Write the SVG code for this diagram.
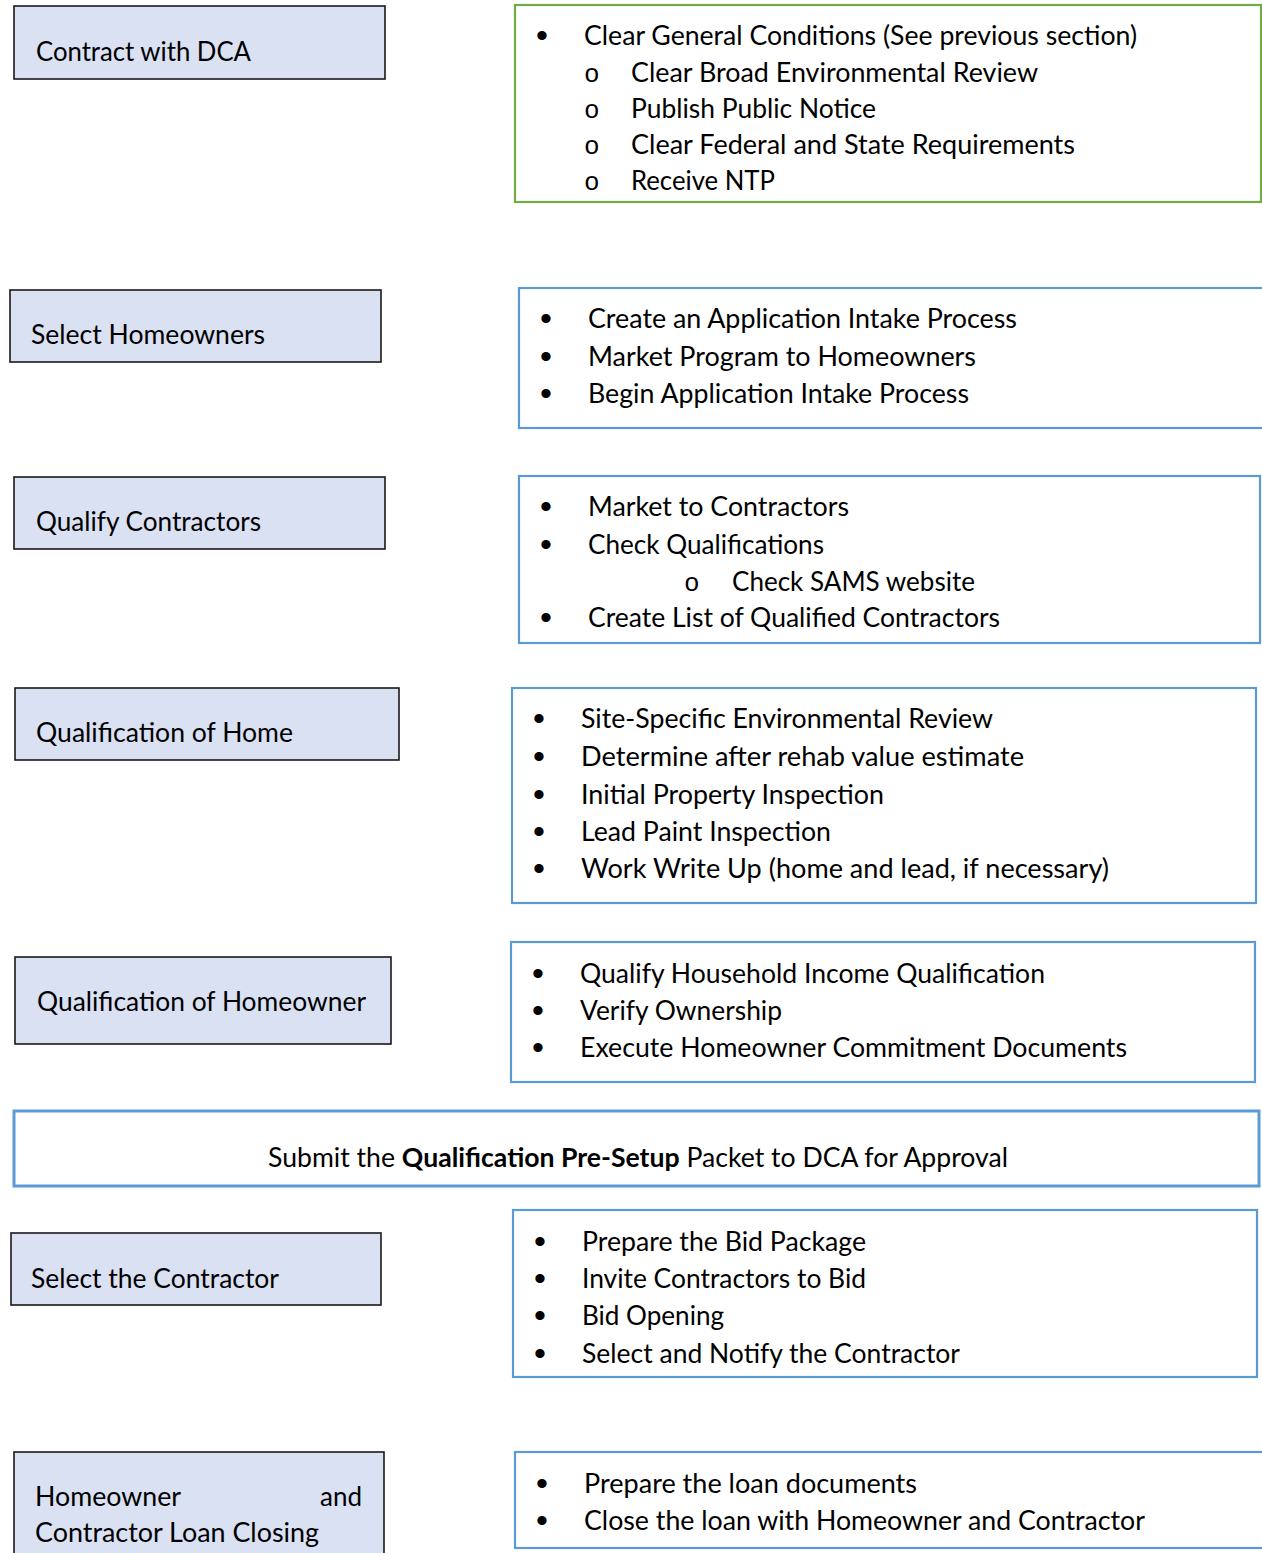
<svg xmlns="http://www.w3.org/2000/svg" width="1262" height="1553" viewBox="0 0 1262 1553">
<style>
.step{fill:#dae1f3;stroke:#1a1a1a;stroke-width:1.6}
.green{fill:#fff;stroke:#70ad47;stroke-width:2.2}
.blue{fill:#fff;stroke:#5b9bd5;stroke-width:2.2}
.banner{fill:#fff;stroke:#5b9bd5;stroke-width:3}
text{font-family:Lato,"Open Sans","Liberation Sans",sans-serif;font-size:26px;fill:#000}
.b{font-family:"Liberation Sans",sans-serif;font-size:34px}
.o{font-family:"Liberation Mono",monospace;font-size:26px;font-weight:300}
</style>
<rect width="1262" height="1553" fill="#fff"/>
<g id="connectors"></g>

<g id="n1"><rect class="step" x="14" y="6" width="371" height="73"/>
<text x="36" y="61" textLength="215" lengthAdjust="spacingAndGlyphs">Contract with DCA</text></g>
<g id="d1"><rect class="green" x="515" y="5" width="746" height="197"/>
<text class="b" x="536" y="47">•</text><text x="584" y="45" textLength="553" lengthAdjust="spacingAndGlyphs">Clear General Conditions (See previous section)</text>
<text class="o" x="584" y="82">o</text><text x="631" y="82" textLength="407" lengthAdjust="spacingAndGlyphs">Clear Broad Environmental Review</text>
<text class="o" x="584" y="118">o</text><text x="631" y="118" textLength="245" lengthAdjust="spacingAndGlyphs">Publish Public Notice</text>
<text class="o" x="584" y="154">o</text><text x="631" y="154" textLength="444" lengthAdjust="spacingAndGlyphs">Clear Federal and State Requirements</text>
<text class="o" x="584" y="190">o</text><text x="631" y="190" textLength="144" lengthAdjust="spacingAndGlyphs">Receive NTP</text></g>

<g id="n2"><rect class="step" x="10" y="290" width="371" height="72"/>
<text x="31" y="344" textLength="234" lengthAdjust="spacingAndGlyphs">Select Homeowners</text></g>
<g id="d2"><rect class="blue" x="519" y="288" width="750" height="140"/>
<text class="b" x="540" y="330">•</text><text x="588" y="328" textLength="429" lengthAdjust="spacingAndGlyphs">Create an Application Intake Process</text>
<text class="b" x="540" y="368">•</text><text x="588" y="366" textLength="388" lengthAdjust="spacingAndGlyphs">Market Program to Homeowners</text>
<text class="b" x="540" y="405">•</text><text x="588" y="403" textLength="381" lengthAdjust="spacingAndGlyphs">Begin Application Intake Process</text></g>

<g id="n3"><rect class="step" x="14" y="477" width="371" height="72"/>
<text x="36" y="531" textLength="225" lengthAdjust="spacingAndGlyphs">Qualify Contractors</text></g>
<g id="d3"><rect class="blue" x="519" y="476" width="741" height="167"/>
<text class="b" x="540" y="518">•</text><text x="588" y="516" textLength="261" lengthAdjust="spacingAndGlyphs">Market to Contractors</text>
<text class="b" x="540" y="556">•</text><text x="588" y="554" textLength="236" lengthAdjust="spacingAndGlyphs">Check Qualifications</text>
<text class="o" x="684" y="591">o</text><text x="732" y="591" textLength="243" lengthAdjust="spacingAndGlyphs">Check SAMS website</text>
<text class="b" x="540" y="629">•</text><text x="588" y="627" textLength="412" lengthAdjust="spacingAndGlyphs">Create List of Qualified Contractors</text></g>

<g id="n4"><rect class="step" x="15" y="688" width="384" height="72"/>
<text x="36" y="742" textLength="257" lengthAdjust="spacingAndGlyphs">Qualification of Home</text></g>
<g id="d4"><rect class="blue" x="512" y="688" width="744" height="215"/>
<text class="b" x="533" y="730">•</text><text x="581" y="728" textLength="412" lengthAdjust="spacingAndGlyphs">Site-Specific Environmental Review</text>
<text class="b" x="533" y="768">•</text><text x="581" y="766" textLength="443" lengthAdjust="spacingAndGlyphs">Determine after rehab value estimate</text>
<text class="b" x="533" y="806">•</text><text x="581" y="804" textLength="303" lengthAdjust="spacingAndGlyphs">Initial Property Inspection</text>
<text class="b" x="533" y="843">•</text><text x="581" y="841" textLength="250" lengthAdjust="spacingAndGlyphs">Lead Paint Inspection</text>
<text class="b" x="533" y="880">•</text><text x="581" y="878" textLength="528" lengthAdjust="spacingAndGlyphs">Work Write Up (home and lead, if necessary)</text></g>

<g id="n5"><rect class="step" x="15" y="957" width="376" height="87"/>
<text x="37" y="1011" textLength="329" lengthAdjust="spacingAndGlyphs">Qualification of Homeowner</text></g>
<g id="d5"><rect class="blue" x="511" y="942" width="744" height="140"/>
<text class="b" x="532" y="985">•</text><text x="580" y="983" textLength="465" lengthAdjust="spacingAndGlyphs">Qualify Household Income Qualification</text>
<text class="b" x="532" y="1022">•</text><text x="580" y="1020" textLength="202" lengthAdjust="spacingAndGlyphs">Verify Ownership</text>
<text class="b" x="532" y="1059">•</text><text x="580" y="1057" textLength="547" lengthAdjust="spacingAndGlyphs">Execute Homeowner Commitment Documents</text></g>

<g id="banner"><rect class="banner" x="14" y="1111" width="1245" height="75"/>
<text x="268" y="1167" textLength="740" lengthAdjust="spacingAndGlyphs">Submit the <tspan font-weight="bold">Qualification Pre-Setup</tspan> Packet to DCA for Approval</text></g>

<g id="n6"><rect class="step" x="11" y="1233" width="370" height="72"/>
<text x="31" y="1288" textLength="248" lengthAdjust="spacingAndGlyphs">Select the Contractor</text></g>
<g id="d6"><rect class="blue" x="513" y="1210" width="744" height="167"/>
<text class="b" x="534" y="1253">•</text><text x="582" y="1251" textLength="284" lengthAdjust="spacingAndGlyphs">Prepare the Bid Package</text>
<text class="b" x="534" y="1290">•</text><text x="582" y="1288" textLength="284" lengthAdjust="spacingAndGlyphs">Invite Contractors to Bid</text>
<text class="b" x="534" y="1327">•</text><text x="582" y="1325" textLength="142" lengthAdjust="spacingAndGlyphs">Bid Opening</text>
<text class="b" x="534" y="1365">•</text><text x="582" y="1363" textLength="378" lengthAdjust="spacingAndGlyphs">Select and Notify the Contractor</text></g>

<g id="n7"><rect class="step" x="14" y="1452" width="370" height="120"/>
<text x="35" y="1506" textLength="146" lengthAdjust="spacingAndGlyphs">Homeowner</text>
<text x="320" y="1506" textLength="42" lengthAdjust="spacingAndGlyphs">and</text>
<text x="35" y="1542" textLength="284" lengthAdjust="spacingAndGlyphs">Contractor Loan Closing</text></g>
<g id="d7"><rect class="blue" x="515" y="1452" width="754" height="96"/>
<text class="b" x="536" y="1495">•</text><text x="584" y="1493" textLength="333" lengthAdjust="spacingAndGlyphs">Prepare the loan documents</text>
<text class="b" x="536" y="1532">•</text><text x="584" y="1530" textLength="561" lengthAdjust="spacingAndGlyphs">Close the loan with Homeowner and Contractor</text></g>
</svg>
